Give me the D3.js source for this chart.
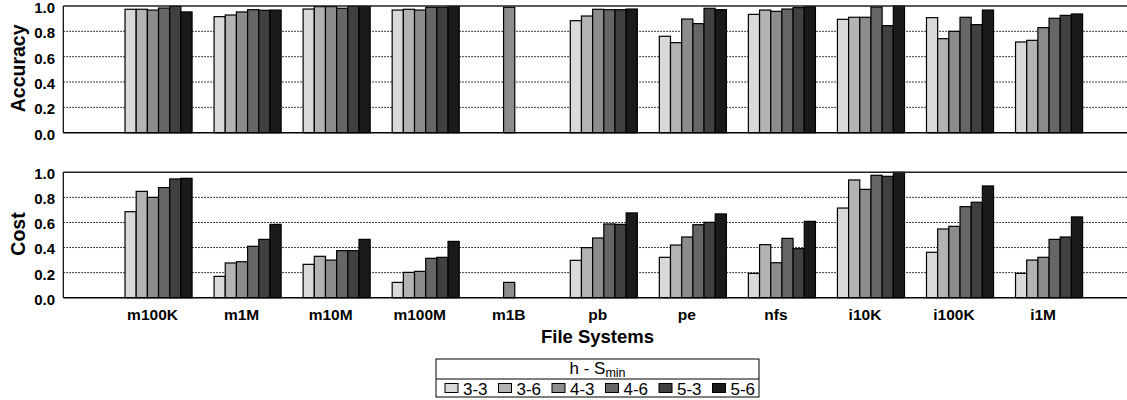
<!DOCTYPE html>
<html lang="en">
<head>
    <meta charset="UTF-8">
    <style>
        body { margin: 0; background: #fff; }
        text { font-family: "Liberation Sans", Arial, sans-serif; fill: #000; }
        .tick-label { font-size: 15px; font-weight: bold; }
        .axis-title { font-size: 19.5px; font-weight: bold; }
        .grid { stroke: #000; stroke-width: 1; stroke-dasharray: 1.5,1.5; }
        .bar { stroke: #000; stroke-width: 1.2; }
    </style>
    <script src="https://d3js.org/d3.v7.min.js"></script>
    <title>Accuracy and Cost per File System</title>
</head>
<body>
    <svg width="1127" height="400"></svg>
    <script>

        // data
        var fileSystems = ["m100K", "m1M", "m10M", "m100M", "m1B", "pb", "pe", "nfs", "i10K", "i100K", "i1M"];
        var series = ["3-3", "3-6", "4-3", "4-6", "5-3", "5-6"];
        var yTicks = [0, 0.2, 0.4, 0.6, 0.8, 1.0];

        // accuracy, one row per series (same order as fileSystems)
        var accuracy33 = [0.974, 0.916, 0.976, 0.968, 0, 0.884, 0.761, 0.934, 0.895, 0.908, 0.716];
        var accuracy36 = [0.974, 0.929, 0.995, 0.974, 0, 0.921, 0.711, 0.968, 0.911, 0.742, 0.729];
        var accuracy43 = [0.968, 0.953, 0.995, 0.968, 0.990, 0.974, 0.897, 0.958, 0.911, 0.800, 0.829];
        var accuracy46 = [0.984, 0.971, 0.982, 0.990, 0, 0.971, 0.861, 0.976, 0.992, 0.911, 0.903];
        var accuracy53 = [0.997, 0.966, 0.997, 0.990, 0, 0.971, 0.982, 0.987, 0.845, 0.853, 0.926];
        var accuracy56 = [0.953, 0.968, 0.997, 0.997, 0, 0.976, 0.971, 0.995, 1.000, 0.968, 0.937];

        // cost
        var cost33 = [0.686, 0.170, 0.266, 0.122, 0, 0.298, 0.322, 0.194, 0.715, 0.362, 0.194];
        var cost36 = [0.848, 0.277, 0.330, 0.202, 0, 0.399, 0.420, 0.423, 0.939, 0.548, 0.300];
        var cost43 = [0.800, 0.287, 0.300, 0.210, 0.122, 0.476, 0.484, 0.279, 0.864, 0.569, 0.322];
        var cost46 = [0.878, 0.410, 0.375, 0.314, 0, 0.588, 0.582, 0.473, 0.976, 0.726, 0.465];
        var cost53 = [0.947, 0.465, 0.375, 0.322, 0, 0.585, 0.601, 0.391, 0.968, 0.761, 0.484];
        var cost56 = [0.952, 0.585, 0.465, 0.449, 0, 0.676, 0.668, 0.609, 1.000, 0.891, 0.644];

        var accuracyRows = [accuracy33, accuracy36, accuracy43, accuracy46, accuracy53, accuracy56];
        var costRows = [cost33, cost36, cost43, cost46, cost53, cost56];

        var svg = d3.select("svg");

        var color = d3.scaleOrdinal()
            .domain(series)
            .range(["#d9d9d9", "#b3b3b3", "#8c8c8c", "#666666", "#404040", "#1a1a1a"]);

        // group positions (plot runs past the right edge of the picture)
        var x = d3.scaleBand()
            .domain(fileSystems)
            .range([63.3, 1144.3])
            .paddingInner(0.247)
            .paddingOuter(0.693);

        var xs = d3.scaleBand()
            .domain(series)
            .range([0, x.bandwidth()]);

        function drawPanel(rows, top, bottom, title) {
            var y = d3.scaleLinear().domain([0, 1]).range([bottom, top]);
            var g = svg.append("g");

            // dotted grid
            g.selectAll(".grid")
                .data(yTicks.filter(function(t) { return t > 0 && t < 1; }))
                .enter().append("line")
                .attr("class", "grid")
                .attr("x1", 63.3).attr("x2", 1127)
                .attr("y1", function(d) { return y(d); })
                .attr("y2", function(d) { return y(d); });

            // bars
            var groups = g.selectAll(".fs")
                .data(fileSystems)
                .enter().append("g")
                .attr("transform", function(d) { return "translate(" + x(d) + ",0)"; });

            groups.selectAll("rect")
                .data(function(d, i) {
                    return series.map(function(s, j) { return { s: s, v: rows[j][i] }; });
                })
                .enter().append("rect")
                .attr("class", "bar")
                .attr("x", function(d) { return xs(d.s); })
                .attr("width", xs.bandwidth())
                .attr("y", function(d) { return y(d.v); })
                .attr("height", function(d) { return y(0) - y(d.v); })
                .attr("fill", function(d) { return color(d.s); });

            // frame: top, left, bottom
            g.append("line").attr("x1", 63.3).attr("x2", 1127).attr("y1", y(1)).attr("y2", y(1))
                .attr("stroke", "#222").attr("stroke-width", 1.5);
            g.append("line").attr("x1", 63.3).attr("x2", 1127).attr("y1", y(0)).attr("y2", y(0))
                .attr("stroke", "#000").attr("stroke-width", 1.5);
            g.append("line").attr("x1", 63.3).attr("x2", 63.3).attr("y1", y(0)).attr("y2", y(1))
                .attr("stroke", "#000").attr("stroke-width", 1.2);

            // y tick labels
            g.selectAll(".tick-label")
                .data(yTicks)
                .enter().append("text")
                .attr("class", "tick-label")
                .attr("x", 55)
                .attr("y", function(d) { return y(d); })
                .attr("dy", "0.46em")
                .attr("text-anchor", "end")
                .text(function(d) { return d3.format(".1f")(d); });

            // axis title
            g.append("text")
                .attr("class", "axis-title")
                .attr("transform", "translate(24.5," + ((top + bottom) / 2 - 1) + ") rotate(-90)")
                .attr("text-anchor", "middle")
                .text(title);
        }

        drawPanel(accuracyRows, 6, 132.7, "Accuracy");
        drawPanel(costRows, 172.3, 297.7, "Cost");

        // category labels
        svg.selectAll(".fs-label")
            .data(fileSystems)
            .enter().append("text")
            .attr("class", "tick-label")
            .attr("x", function(d) { return x(d) + x.bandwidth() / 2 - 6; })
            .attr("y", 320)
            .attr("text-anchor", "middle")
            .style("font-size", "15.5px")
            .text(function(d) { return d; });

        svg.append("text")
            .attr("class", "axis-title")
            .attr("x", 597.5)
            .attr("y", 343)
            .attr("text-anchor", "middle")
            .style("font-size", "18.5px")
            .text("File Systems");

        // legend
        var legend = svg.append("g");
        legend.append("rect")
            .attr("x", 436).attr("y", 359).attr("width", 323).attr("height", 38)
            .attr("fill", "#fff").attr("stroke", "#000").attr("stroke-width", 1);
        legend.append("line")
            .attr("x1", 436).attr("x2", 759).attr("y1", 379).attr("y2", 379)
            .attr("stroke", "#000").attr("stroke-width", 1);

        var header = legend.append("text")
            .attr("x", 597.5).attr("y", 374)
            .attr("text-anchor", "middle")
            .style("font-size", "17px");
        header.append("tspan").text("h - S");
        header.append("tspan").attr("dy", 3).style("font-size", "12.5px").text("min");

        var item = legend.selectAll(".item")
            .data(series)
            .enter().append("g")
            .attr("transform", function(d, i) { return "translate(" + (445 + i * 53.5) + ",0)"; });

        item.append("rect")
            .attr("x", 0).attr("y", 383.5).attr("width", 13).attr("height", 9)
            .attr("fill", function(d) { return color(d); })
            .attr("stroke", "#000").attr("stroke-width", 1);

        item.append("text")
            .attr("x", 18).attr("y", 395)
            .style("font-size", "17px")
            .text(function(d) { return d; });

    </script>
</body>
</html>
